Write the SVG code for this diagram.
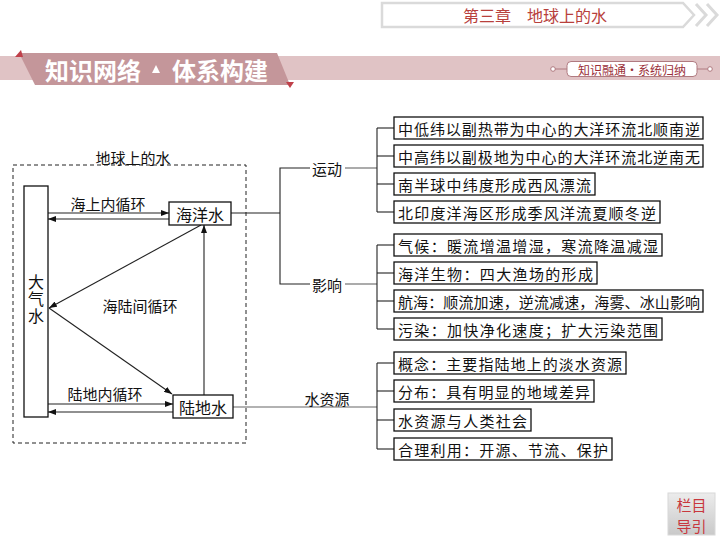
<svg xmlns="http://www.w3.org/2000/svg" width="720" height="540" viewBox="0 0 720 540">
<style>
text{font-family:"Noto Sans CJK SC","Noto Sans",sans-serif;fill:#111;}
.box{fill:#fff;stroke:#111;stroke-width:1.3;}
.ln{fill:none;stroke:#222;stroke-width:1.1;}
.gl{fill:none;stroke:#666;stroke-width:1.1;}
.t15{font-size:15px;dominant-baseline:central;}
.t16{font-size:16px;dominant-baseline:central;}
.mid{text-anchor:middle;}
</style>
<defs>
<marker id="ah" markerWidth="8" markerHeight="6" refX="8" refY="3" orient="auto" markerUnits="userSpaceOnUse">
<path d="M0,0 L8,3 L0,6 Z" fill="#111"/>
</marker>
<linearGradient id="btn" x1="0" y1="0" x2="0" y2="1">
<stop offset="0" stop-color="#ececec"/>
<stop offset="1" stop-color="#c9c9c9"/>
</linearGradient>
</defs>

<g id="header">
<path d="M382,3 L683,3 L694,15 L683,27 L382,27 Z" fill="#fff" stroke="#dadada" stroke-width="2.5"/>
<polyline points="696,4 706,15 696,26" fill="none" stroke="#dadada" stroke-width="3"/>
<polyline points="707,4 717,15 707,26" fill="none" stroke="#dadada" stroke-width="3"/>
<text x="535" y="15" class="mid" style="font-size:16px;dominant-baseline:central;fill:#b8403c;">第三章　地球上的水</text>
<rect x="0" y="56" width="720" height="24" fill="#e0c3c5"/>
<polygon points="19,53 277,53 290,85 35,85" fill="#c4969a"/>
<polygon points="15,57 21,50 23,57" fill="#c0404a"/>
<polygon points="286,82 294,82 290,88" fill="#c0404a"/>
<text x="45" y="69" style="font-size:24px;font-weight:bold;fill:#fff;dominant-baseline:central;">知识网络</text>
<polygon points="152,73 156,65 160,73" fill="#fff"/>
<text x="172" y="69" style="font-size:24px;font-weight:bold;fill:#fff;dominant-baseline:central;">体系构建</text>
<line x1="553" y1="69" x2="567" y2="69" stroke="#b07a80" stroke-width="1"/>
<line x1="697" y1="69" x2="710" y2="69" stroke="#b07a80" stroke-width="1"/>
<circle cx="553" cy="69" r="2.3" fill="#fff" stroke="#b07a80"/>
<circle cx="710" cy="69" r="2.3" fill="#fff" stroke="#b07a80"/>
<rect x="567" y="61.5" width="130" height="15" rx="4" fill="#fff" stroke="#b07a80" stroke-width="1"/>
<text x="632" y="69" class="mid" style="font-size:12px;fill:#9b2f39;dominant-baseline:central;">知识融通·系统归纳</text>
</g>

<g id="frame">
<rect x="13" y="165" width="233" height="278" fill="none" stroke="#222" stroke-width="1" stroke-dasharray="4,3"/>
<text x="133" y="157" class="t15 mid">地球上的水</text>
</g>

<g id="connectors">
<line class="ln" x1="48" y1="213" x2="169" y2="213" marker-end="url(#ah)"/>
<line class="ln" x1="169" y1="219" x2="48" y2="219" marker-end="url(#ah)"/>
<line class="ln" x1="48" y1="404" x2="173" y2="404" marker-end="url(#ah)"/>
<line class="ln" x1="173" y1="412" x2="48" y2="412" marker-end="url(#ah)"/>
<line class="ln" x1="201" y1="225" x2="49" y2="308" marker-end="url(#ah)"/>
<line class="ln" x1="49" y1="308" x2="172" y2="394" marker-end="url(#ah)"/>
<line class="ln" x1="204" y1="395" x2="204" y2="225" marker-end="url(#ah)"/>
<line class="ln" x1="231" y1="213" x2="280" y2="213"/>
<polyline class="ln" points="310,168 280,168 280,284 310,284"/>
<line class="gl" x1="345" y1="168" x2="377" y2="168"/>
<line class="gl" x1="345" y1="284" x2="377" y2="284"/>
<line class="gl" x1="233" y1="407" x2="377" y2="407"/>
<line class="ln" x1="377" y1="128" x2="377" y2="212"/>
<line class="ln" x1="377" y1="128" x2="394" y2="128"/>
<line class="ln" x1="377" y1="156" x2="394" y2="156"/>
<line class="ln" x1="377" y1="184" x2="394" y2="184"/>
<line class="ln" x1="377" y1="212" x2="394" y2="212"/>
<line class="ln" x1="377" y1="245" x2="377" y2="329"/>
<line class="ln" x1="377" y1="245" x2="394" y2="245"/>
<line class="ln" x1="377" y1="273" x2="394" y2="273"/>
<line class="ln" x1="377" y1="301" x2="394" y2="301"/>
<line class="ln" x1="377" y1="329" x2="394" y2="329"/>
<line class="ln" x1="377" y1="363" x2="377" y2="449"/>
<line class="ln" x1="377" y1="363" x2="394" y2="363"/>
<line class="ln" x1="377" y1="391" x2="394" y2="391"/>
<line class="ln" x1="377" y1="420" x2="394" y2="420"/>
<line class="ln" x1="377" y1="449" x2="394" y2="449"/>
<text x="108" y="203" class="t15 mid">海上内循环</text>
<text x="105" y="393" class="t15 mid">陆地内循环</text>
<text x="140" y="305" class="t15 mid">海陆间循环</text>
<text x="327" y="168" class="t15 mid">运动</text>
<text x="327" y="284" class="t15 mid">影响</text>
<text x="327" y="398" class="t15 mid">水资源</text>
</g>

<g id="n-daqishui">
<rect class="box" x="24" y="186" width="24" height="231"/>
<text x="36" y="274" writing-mode="tb" style="font-size:16px;letter-spacing:1px;">大气水</text>
</g>
<g id="n-haiyangshui">
<rect class="box" x="169" y="202" width="62" height="23"/>
<text x="200" y="213.5" class="t16 mid">海洋水</text>
</g>
<g id="n-ludishui">
<rect class="box" x="173" y="395" width="60" height="23"/>
<text x="203" y="406.5" class="t16 mid">陆地水</text>
</g>

<g id="n1"><rect class="box" x="394" y="117" width="309" height="22"/><text x="398" y="128" class="t15" textLength="302" lengthAdjust="spacing">中低纬以副热带为中心的大洋环流北顺南逆</text></g>
<g id="n2"><rect class="box" x="394" y="145" width="309" height="22"/><text x="398" y="156" class="t15" textLength="302" lengthAdjust="spacing">中高纬以副极地为中心的大洋环流北逆南无</text></g>
<g id="n3"><rect class="box" x="394" y="173" width="201" height="22"/><text x="398" y="184" class="t15" textLength="193" lengthAdjust="spacing">南半球中纬度形成西风漂流</text></g>
<g id="n4"><rect class="box" x="394" y="201" width="266" height="22"/><text x="398" y="212" class="t15" textLength="258" lengthAdjust="spacing">北印度洋海区形成季风洋流夏顺冬逆</text></g>
<g id="n5"><rect class="box" x="394" y="234" width="268" height="22"/><text x="398" y="245" class="t15" textLength="260" lengthAdjust="spacing">气候：暖流增温增湿，寒流降温减湿</text></g>
<g id="n6"><rect class="box" x="394" y="262" width="203" height="22"/><text x="398" y="273" class="t15" textLength="195" lengthAdjust="spacing">海洋生物：四大渔场的形成</text></g>
<g id="n7"><rect class="box" x="394" y="290" width="309" height="22"/><text x="398" y="301" class="t15" textLength="302" lengthAdjust="spacing">航海：顺流加速，逆流减速，海雾、冰山影响</text></g>
<g id="n8"><rect class="box" x="394" y="318" width="268" height="22"/><text x="398" y="329" class="t15" textLength="260" lengthAdjust="spacing">污染：加快净化速度；扩大污染范围</text></g>
<g id="n9"><rect class="box" x="394" y="352" width="232" height="22"/><text x="398" y="363" class="t15" textLength="224" lengthAdjust="spacing">概念：主要指陆地上的淡水资源</text></g>
<g id="n10"><rect class="box" x="394" y="380" width="200" height="22"/><text x="398" y="391" class="t15" textLength="192" lengthAdjust="spacing">分布：具有明显的地域差异</text></g>
<g id="n11"><rect class="box" x="394" y="409" width="137" height="22"/><text x="398" y="420" class="t15" textLength="129" lengthAdjust="spacing">水资源与人类社会</text></g>
<g id="n12"><rect class="box" x="394" y="438" width="218" height="22"/><text x="398" y="449" class="t15" textLength="210" lengthAdjust="spacing">合理利用：开源、节流、保护</text></g>

<g id="btn-nav">
<rect x="668" y="493" width="47" height="42" fill="url(#btn)" stroke="#d8d8d8" stroke-width="1"/>
<text x="691.5" y="504" class="mid" style="font-size:15px;fill:#c8383e;dominant-baseline:central;">栏目</text>
<text x="691.5" y="525" class="mid" style="font-size:15px;fill:#c8383e;dominant-baseline:central;">导引</text>
</g>
</svg>
